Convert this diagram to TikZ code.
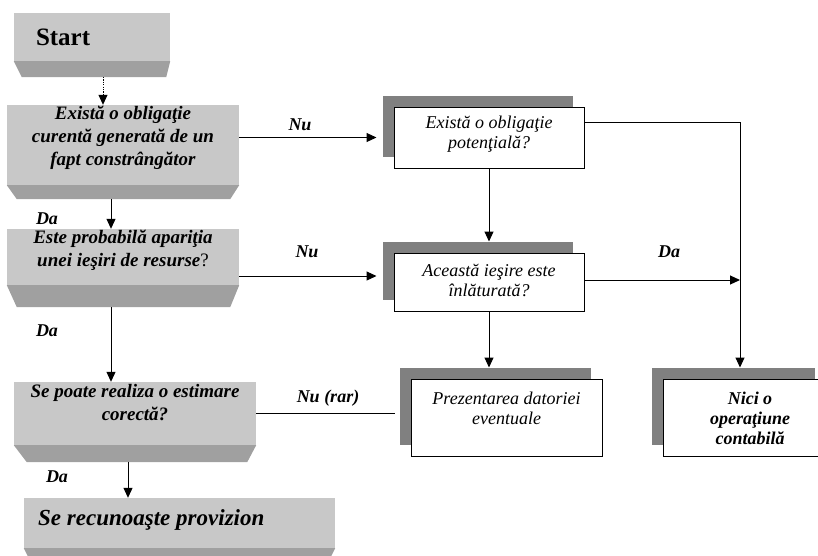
\documentclass[tikz,border=0pt]{standalone}
\usepackage{fontspec}
\setmainfont{Liberation Serif}
\usetikzlibrary{arrows.meta,shadows}

\definecolor{facegray}{RGB}{200,200,200}
\definecolor{bevelgray}{RGB}{160,160,160}
\definecolor{shadowgray}{RGB}{128,128,128}

\tikzset{
  face/.style={rectangle, fill=facegray, inner sep=0pt},
  bevelfill/.style={fill=bevelgray},
  qtext/.style={font=\fontsize{19}{23}\selectfont\bfseries\itshape, align=center, inner sep=0pt},
  bigtext/.style={font=\fontsize{23}{26}\selectfont\bfseries\itshape, inner sep=0pt},
  card/.style={rectangle, draw=black, line width=1pt, fill=white, inner sep=0pt,
    general shadow={fill=shadowgray, shadow xshift=-11pt, shadow yshift=11pt}},
  ctext/.style={font=\fontsize{18}{20}\selectfont\itshape, align=center, inner sep=0pt},
  cbold/.style={font=\fontsize{18}{20}\selectfont\bfseries\itshape, align=center, inner sep=0pt},
  lbl/.style={font=\fontsize{18}{20}\selectfont\bfseries\itshape, inner sep=0pt},
  flow/.style={draw=black, line width=1pt, -{Triangle[length=10pt,width=9pt]}},
  plain/.style={draw=black, line width=1pt},
}

% darker bottom strip under a face node: #1 node, #2 depth, #3 left inset, #4 right inset
\newcommand\bevelstrip[4]{%
  \fill[bevelfill] (#1.south west) -- (#1.south east)
    -- ([xshift=-#4pt,yshift=-#2pt]#1.south east)
    -- ([xshift=#3pt,yshift=-#2pt]#1.south west) -- cycle;}

\begin{document}
\begin{tikzpicture}[x=1pt,y=-1pt]
\useasboundingbox (0,0) rectangle (818,555);
\clip (0,0) rectangle (818,555);

% left column: bevelled grey boxes
\node[face, minimum width=156pt, minimum height=48pt] (start) at (92,37) {};
\bevelstrip{start}{16}{8}{4}
\node[font=\fontsize{25}{28}\selectfont\bfseries, anchor=west, inner sep=0pt] (startt) at ([xshift=22pt]start.west) {Start};

\node[face, minimum width=232pt, minimum height=80pt] (q1) at (123,145) {};
\bevelstrip{q1}{14}{10}{9}
\node[qtext] (q1t) at (123,138) {Există o obligaţie\\curentă generată de un\\fapt constrângător};

\node[face, minimum width=232pt, minimum height=56pt] (q2) at (123,257) {};
\bevelstrip{q2}{22}{10}{9}
\node[qtext] (q2t) at (123,250.5) {Este probabilă apariţia\\unei ieşiri de resurse{\upshape\mdseries ?}};

\node[face, minimum width=242pt, minimum height=63pt] (q4) at (135,413.5) {};
\bevelstrip{q4}{17}{13}{9}
\node[qtext] (q4t) at (135,402.5) {Se poate realiza o estimare\\corectă?};

\node[face, minimum width=311pt, minimum height=50pt] (q5) at (179.5,523) {};
\bevelstrip{q5}{16}{8}{8}
\node[bigtext, anchor=west] (q5t) at (38,520) {Se recunoaşte provizion};

% right column: white cards with offset shadows
\node[card, minimum width=190pt, minimum height=61pt] (p1) at (489,137.5) {};
\node[ctext] (p1t) at (489,134) {Există o obligaţie\\potenţială?};

\node[card, minimum width=190pt, minimum height=58pt] (p2) at (489,282) {};
\node[ctext] (p2t) at (489,280) {Această ieşire este\\înlăturată?};

\node[card, minimum width=191pt, minimum height=77pt] (p3) at (506.5,417.5) {};
\node[ctext] (p3t) at (506.5,408) {Prezentarea datoriei\\eventuale};

\node[card, minimum width=163pt, minimum height=77pt] (p4) at (744.5,417.5) {};
\node[cbold] (p4t) at (750,418) {Nici o\\operaţiune\\contabilă};

% connectors
\coordinate (s0) at (103,77);
\draw[flow, dash pattern=on 1.2pt off 1.2pt] (s0) -- (s0 |- q1.north);
\coordinate (q1b) at (111,199);
\draw[flow] (q1b) -- (q1b |- q2.north);
\coordinate (q2b) at (111,307);
\draw[flow] (q2b) -- (q2b |- q4.north);
\coordinate (q4b) at (128,462);
\draw[flow] (q4b) -- (q4b |- q5.north);

\coordinate (p1in) at ([xshift=-17pt]p1.west);
\draw[flow] (q1.east |- p1in) -- (p1in);
\coordinate (p2in) at ([xshift=-17pt,yshift=6pt]p2.west);
\draw[flow] (q2.east |- p2in) -- (p2in);
\coordinate (p3in) at ([xshift=-16pt]p3.west);
\draw[plain] (q4.east) -- (p3in |- q4.east);

\draw[flow, shorten >=11pt] (p1.south) -- (p2.north);
\draw[flow, shorten >=11pt] (p2.south) -- (p2.south |- p3.north);

\coordinate (rail) at (740,280);
\draw[flow, shorten >=11pt] ([yshift=15.5pt]p1.east) -| (rail |- p4.north);
\draw[flow] (p2.east |- rail) -- (rail);

% branch labels
\node[lbl] (nu1) at (300,125) {Nu};
\node[lbl] (nu2) at (307,252) {Nu};
\node[lbl] (nu3) at (328,398) {Nu (rar)};
\node[lbl] (da1) at (47,219) {Da};
\node[lbl] (da2) at (47,331) {Da};
\node[lbl] (da3) at (57,477) {Da};
\node[lbl] (da4) at (669,252) {Da};
\end{tikzpicture}
\end{document}
